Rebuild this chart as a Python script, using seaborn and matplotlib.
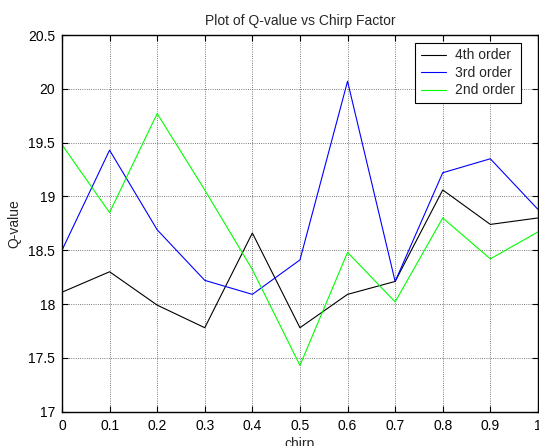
import numpy as np
import pandas as pd
import matplotlib
matplotlib.use('Agg')
import matplotlib.pyplot as plt
import seaborn as sns

# Values
chirp = [0.0, 0.1, 0.2, 0.3, 0.4, 0.5, 0.6, 0.7, 0.8, 0.9, 1.0]
q_4th = [18.11, 18.30, 17.99, 17.78, 18.66, 17.78, 18.09, 18.21, 19.06, 18.74, 18.80]
q_3rd = [18.50, 19.43, 18.69, 18.22, 18.09, 18.41, 20.07, 18.21, 19.22, 19.35, 18.88]
q_2nd = [19.48, 18.85, 19.77, 19.06, 18.32, 17.43, 18.48, 18.02, 18.80, 18.42, 18.67]
series_names = ['4th order', '3rd order', '2nd order']
series_colors = ['#000000', '#0000ff', '#00ff00']
x_ticks = [0, 0.1, 0.2, 0.3, 0.4, 0.5, 0.6, 0.7, 0.8, 0.9, 1]
y_ticks = [17, 17.5, 18, 18.5, 19, 19.5, 20, 20.5]

def build_frame():
    """Long-form table for seaborn."""
    rows = []
    for name, vals in zip(series_names, [q_4th, q_3rd, q_2nd]):
        for x, y in zip(chirp, vals):
            rows.append({'chirp': x, 'Q-value': y, 'order': name})
    return pd.DataFrame(rows)

def main():
    df = build_frame()

    sns.set_style('ticks')
    plt.rcParams['font.family'] = ['Liberation Sans', 'DejaVu Sans']
    plt.rcParams['font.size'] = 10

    fig = plt.figure(figsize=(5.39, 4.46), dpi=100)
    ax = fig.add_axes([0.115, 0.077, 0.883, 0.8445])

    sns.lineplot(
        data=df,
        x='chirp',
        y='Q-value',
        hue='order',
        hue_order=series_names,
        palette=dict(zip(series_names, series_colors)),
        linewidth=0.8,
        ax=ax,
    )

    ax.set_xlim(0, 1)
    ax.set_ylim(17, 20.5)
    ax.set_xticks(x_ticks)
    ax.set_xticklabels([f'{t:g}' for t in x_ticks])
    ax.set_yticks(y_ticks)
    ax.set_yticklabels([f'{t:g}' for t in y_ticks])
    ax.grid(True, color='black', linestyle=':', linewidth=0.6, alpha=0.7)
    ax.tick_params(direction='in', top=True, right=True, length=4, width=0.8,
                   labelsize=10, colors='black', pad=5)
    for side in ax.spines.values():
        side.set_visible(True)
        side.set_linewidth(1.0)
        side.set_color('black')

    ax.set_title('Plot of Q-value vs Chirp Factor', fontsize=10, pad=7)
    ax.set_xlabel('chirp', fontsize=10, labelpad=3)
    ax.set_ylabel('Q-value', fontsize=10, labelpad=5)

    leg = ax.legend(loc='upper right', bbox_to_anchor=(0.964, 0.979),
                    fontsize=10, frameon=True, fancybox=False,
                    borderaxespad=0, handlelength=1.8, handletextpad=0.7,
                    labelspacing=0.25, borderpad=0.4)
    leg.get_frame().set_edgecolor('black')
    leg.get_frame().set_linewidth(0.8)
    leg.get_frame().set_alpha(1)

    fig.savefig('out.png', dpi=100)
    plt.close(fig)

if __name__ == '__main__':
    main()
